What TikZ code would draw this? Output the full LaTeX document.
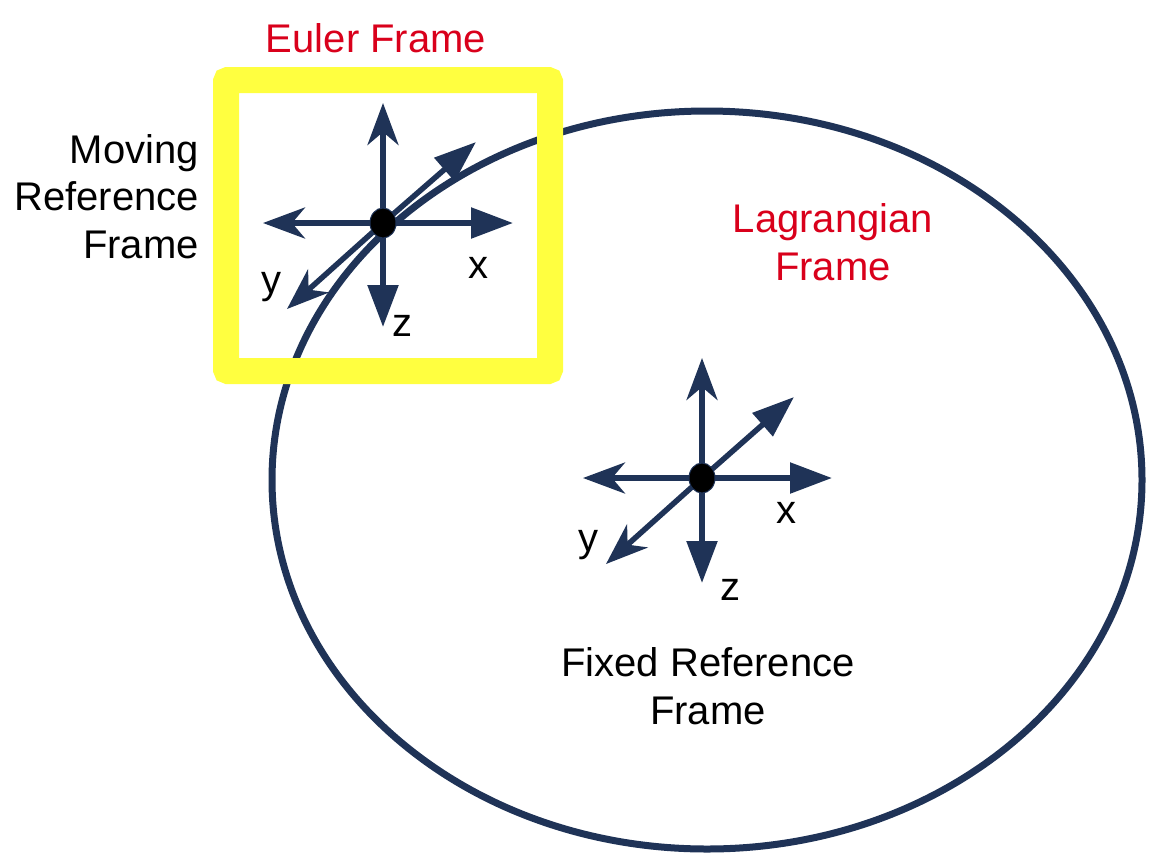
\documentclass[tikz,border=0pt]{standalone}
\usepackage{fontspec}
\setmainfont{Liberation Sans}
\usetikzlibrary{arrows.meta}

\definecolor{navy}{RGB}{31,51,87}
\definecolor{framered}{RGB}{217,0,27}
\definecolor{boxyellow}{RGB}{255,255,64}

\begin{document}
\begin{tikzpicture}[x=1pt,y=-1pt,
  every node/.style={font=\fontsize{40}{47.5}\selectfont, inner sep=0pt},
  axis/.style={draw=navy, line width=5.5pt},
  posaxis/.style={axis, -{Triangle[length=42pt,width=30pt]}},
  negaxis/.style={axis, -{Stealth[length=42pt,width=31pt,inset=13pt]}},
  dotfill/.style={fill=black, draw=navy, line width=1pt},
  redlabel/.style={text=framered, align=center}]

  \useasboundingbox (0,0) rectangle (1155,863);

  % Lagrangian path and Euler box
  \coordinate (lagC) at (707,480);
  \draw[navy, line width=7pt] (lagC) ellipse (435 and 369);
  \draw[boxyellow, line width=26pt, rounded corners=2pt] (226,80) rectangle (550,371);

  % moving frame
  \coordinate (mO) at (383,223);
  \coordinate (mU) at (383,103);
  \coordinate (mL) at (263,223);
  \coordinate (mR) at (513,223);
  \coordinate (mD) at (383,327);
  \coordinate (mF) at (476,142);
  \coordinate (mB) at (287,309);

  \draw[negaxis] (mO) -- (mU);
  \draw[negaxis] (mO) -- (mL);
  \draw[negaxis] (mO) -- (mB);
  \draw[posaxis] (mO) -- (mR);
  \draw[posaxis] (mO) -- (mD);
  \draw[posaxis] (mO) -- (mF);
  \draw[dotfill] (mO) ellipse (13 and 15);

  \node[anchor=base] (mx) at (478,278) {x};
  \node[anchor=base] (my) at (271,293) {y};
  \node[anchor=base] (mz) at (402,336) {z};

  % fixed frame
  \coordinate (fO) at (702,478);
  \coordinate (fU) at (702,358);
  \coordinate (fL) at (583,478);
  \coordinate (fR) at (832,478);
  \coordinate (fD) at (702,583);
  \coordinate (fF) at (794,397);
  \coordinate (fB) at (606,564);

  \draw[negaxis] (fO) -- (fU);
  \draw[negaxis] (fO) -- (fL);
  \draw[negaxis] (fO) -- (fB);
  \draw[posaxis] (fO) -- (fR);
  \draw[posaxis] (fO) -- (fD);
  \draw[posaxis] (fO) -- (fF);
  \draw[dotfill] (fO) ellipse (13 and 15);

  \node[anchor=base] (fx) at (786,523) {x};
  \node[anchor=base] (fy) at (588,551) {y};
  \node[anchor=base] (fz) at (730,600) {z};

  % titles (base = last line)
  \node[redlabel, anchor=base] (euler) at (376,52) {Euler Frame};
  \node[redlabel, anchor=base] (lagrange) at (833,280) {Lagrangian\\Frame};
  \node[align=right, anchor=base east] (moving) at (199,258) {Moving\\Reference\\Frame};
  \node[align=center, anchor=base] (fixed) at (708,724) {Fixed Reference\\Frame};
\end{tikzpicture}
\end{document}
